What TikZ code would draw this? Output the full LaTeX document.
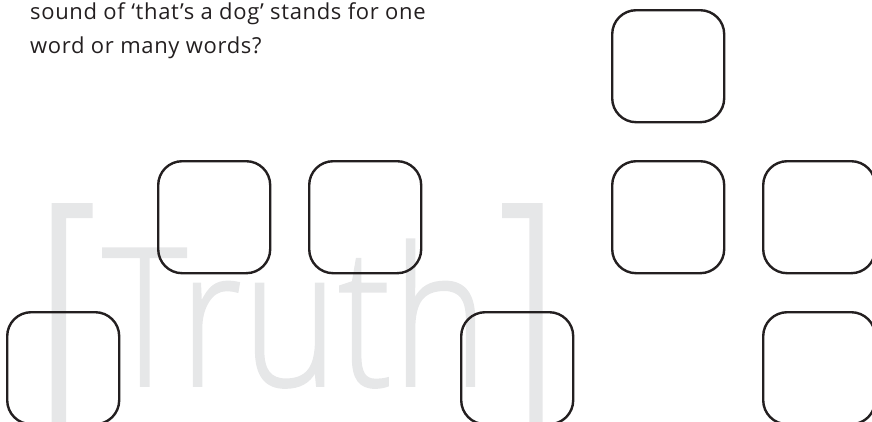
\documentclass[tikz,border=0pt]{standalone}
\usepackage{fontspec}
\usepackage{graphicx}
\setmainfont{Open Sans}[LetterSpace=3]
\newfontfamily\lightfont{Open Sans Light}[FakeBold=1]
\definecolor{wm}{HTML}{E6E7E8}
\definecolor{ink}{HTML}{231F20}
\begin{document}
\begin{tikzpicture}[x=1pt,y=-1pt,
  box/.style={draw=ink, line width=2.4pt, rounded corners=24pt, minimum width=112pt, minimum height=112pt, inner sep=0pt, anchor=north west},
  mark text/.style={text=wm, inner sep=0pt, anchor=base west},
  caption/.style={text=ink, inner sep=0pt, anchor=base west, font=\fontsize{22}{33}\selectfont}]
\useasboundingbox (0,0) rectangle (872,421);
\clip (0,0) rectangle (872,421);
% watermark brackets
\fill[wm] (51.7,430) -- (51.7,203) -- (92.5,203) -- (92.5,218) -- (66,218) -- (66,430) -- cycle;
\fill[wm] (542.7,430) -- (542.7,203) -- (502,203) -- (502,218) -- (529.3,218) -- (529.3,430) -- cycle;
\node[mark text, font=\lightfont\fontsize{193}{193}\selectfont] (truth) at (102,386) {\scalebox{0.84}[1]{Truth}};
% caption
\node[caption] (q1) at (30,19.5) {sound of ‘that’s a dog’ stands for one};
\node[caption] (q2) at (30,53.3) {word or many words?};
% boxes
\node[box] (b1) at (611,9) {};
\node[box] (b2) at (157,160) {};
\node[box] (b3) at (308,160) {};
\node[box] (b4) at (611,160) {};
\node[box] (b5) at (762,160) {};
\node[box] (b6) at (6,311) {};
\node[box] (b7) at (460,311) {};
\node[box] (b8) at (762,311) {};
\end{tikzpicture}
\end{document}
